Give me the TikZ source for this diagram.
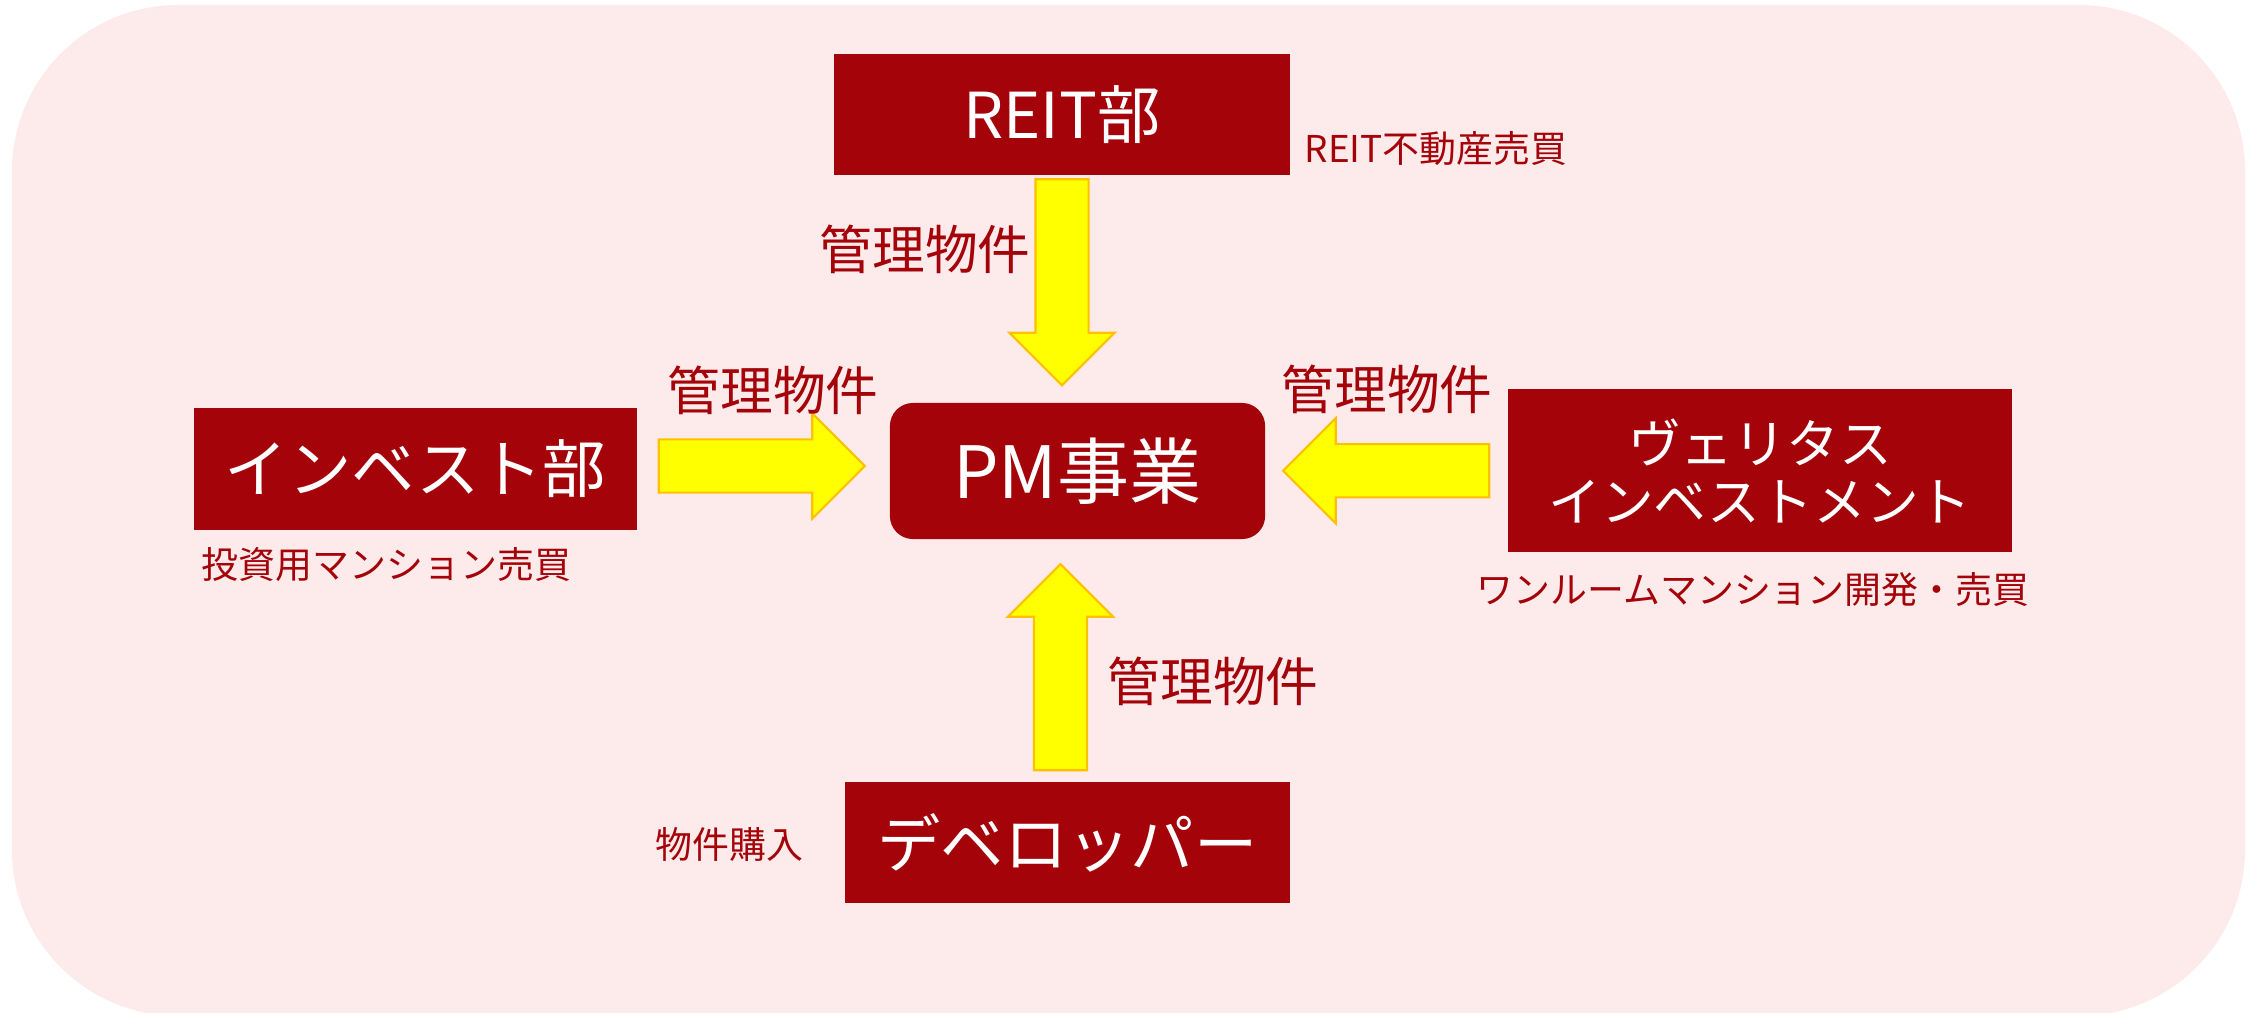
\documentclass[tikz,border=0pt]{standalone}
\usepackage{fontspec}
\setmainfont{Noto Sans CJK JP}
\usetikzlibrary{shapes.arrows, calc}
\definecolor{bgpink}{RGB}{253,235,235}
\definecolor{boxred}{RGB}{165,3,10}
\definecolor{arrowfill}{RGB}{255,255,0}
\definecolor{arrowline}{RGB}{255,192,0}

\begin{document}
\begin{tikzpicture}[x=0.01cm, y=-0.01cm,
  box/.style={fill=boxred, text=white, inner sep=0pt, align=center},
  bigtext/.style={font=\fontsize{18pt}{21pt}\selectfont},
  lbl/.style={text=boxred, inner sep=0pt, font=\fontsize{15pt}{18pt}\selectfont},
  note/.style={text=boxred, inner sep=0pt, font=\fontsize{10.5pt}{12pt}\selectfont},
  blk/.style={single arrow, fill=arrowfill, draw=arrowline, line width=0.6pt, inner xsep=0pt, inner ysep=0.255cm,
    minimum width=1.03cm, minimum height=2.06cm, single arrow head extend=0.26cm}]
\useasboundingbox (0,0) rectangle (2255,1012);
\fill[bgpink, rounded corners=1.66cm] (12,5) rectangle (2245,1016);

% departments
\node[box, bigtext, minimum width=4.56cm, minimum height=1.21cm] (reit) at (1062,114.5) {REIT部};
\node[box, bigtext, minimum width=4.43cm, minimum height=1.22cm] (invest) at (415.5,469) {インベスト部};
\node[box, font=\fontsize{15pt}{16.5pt}\selectfont, minimum width=5.04cm, minimum height=1.63cm] (veritas) at (1760,470.5) {ヴェリタス\\インベストメント};
\node[box, bigtext, minimum width=4.45cm, minimum height=1.21cm] (dev) at (1067.5,842.5) {デベロッパー};
\node[box, font=\fontsize{20.5pt}{24pt}\selectfont, rounded corners=0.23cm, minimum width=3.75cm, minimum height=1.36cm] (pm) at (1077.5,471) {PM事業};

% arrows into PM
\node[blk, rotate=-90] (a1) at ($(reit.south)!.5!(reit.south |- pm.north)+(0,-20)$) {};
\node[blk] (a2) at ($(invest.east)!.5!(pm.west)+(-15,-4)$) {};
\node[blk, rotate=180] (a3) at ($(pm.east)!.5!(veritas.west)+(13,0)$) {};
\node[blk, rotate=90] (a4) at ($(dev.north)!.5!(dev.north |- pm.south)+(-7,20)$) {};

\node[lbl] (l1) at (925,249) {管理物件};
\node[lbl] (l2) at (773,390) {管理物件};
\node[lbl] (l3) at (1387,389) {管理物件};
\node[lbl] (l4) at (1213,681) {管理物件};

% notes
\node[note, anchor=west] (n1) at (1304,149) {REIT不動産売買};
\node[note, anchor=west] (n2) at (201,565) {投資用マンション売買};
\node[note] (n3) at (1753,590) {ワンルームマンション開発・売買};
\node[note, anchor=east] (n4) at (804,844) {物件購入};
\end{tikzpicture}
\end{document}
